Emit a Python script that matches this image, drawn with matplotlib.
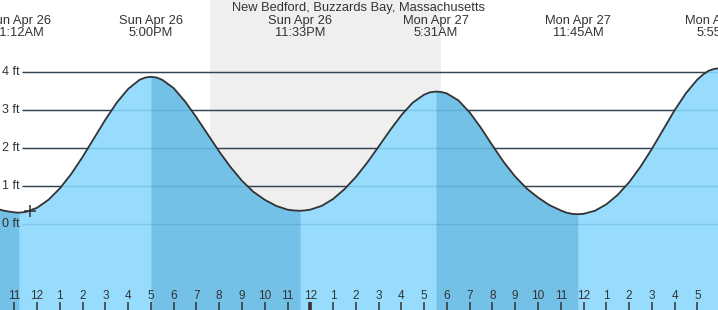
import matplotlib
matplotlib.use('Agg')
import matplotlib.pyplot as plt
import matplotlib.transforms as mtransforms
import numpy as np

plt.rcParams['font.family'] = ['Liberation Sans', 'DejaVu Sans']

# tide height (ft); time in hours counted from Sun 00:00
tide_time = [10.0, 10.25, 10.5, 10.75, 11.0, 11.2, 11.5,
             12.0, 12.5, 13.0, 13.5, 14.0, 14.5, 15.0, 15.5, 16.0, 16.5,
             16.75, 17.0, 17.25, 17.5,
             18.0, 18.5, 19.0, 19.5, 20.0, 20.5, 21.0, 21.5, 22.0, 22.5, 23.0,
             23.25, 23.55, 23.75,
             24.0, 24.5, 25.0, 25.5, 26.0, 26.5, 27.0, 27.5, 28.0, 28.5, 29.0,
             29.25, 29.517, 29.75,
             30.0, 30.5, 31.0, 31.5, 32.0, 32.5, 33.0, 33.5, 34.0, 34.5, 35.0,
             35.25, 35.5, 35.75,
             36.0, 36.5, 37.0, 37.5, 38.0, 38.5, 39.0, 39.5, 40.0, 40.5, 41.0,
             41.25, 41.5, 41.75, 41.917, 42.0]
tide_ft = [0.44, 0.40, 0.36, 0.33, 0.31, 0.30, 0.32,
           0.43, 0.64, 0.94, 1.32, 1.77, 2.26, 2.75, 3.20, 3.56, 3.80,
           3.86, 3.88, 3.86, 3.80,
           3.58, 3.23, 2.81, 2.36, 1.91, 1.50, 1.14, 0.85, 0.64, 0.48, 0.38,
           0.36, 0.35, 0.36,
           0.38, 0.48, 0.66, 0.92, 1.24, 1.62, 2.04, 2.47, 2.87, 3.20, 3.41,
           3.47, 3.49, 3.48,
           3.44, 3.26, 2.94, 2.53, 2.07, 1.63, 1.25, 0.94, 0.70, 0.50, 0.36,
           0.30, 0.27, 0.26,
           0.27, 0.35, 0.52, 0.77, 1.10, 1.51, 1.98, 2.49, 3.00, 3.45, 3.81,
           3.94, 4.04, 4.09, 4.10, 4.10]

# high / low tides
ext_time = [11.2, 17.0, 23.55, 29.517, 35.75, 41.917]
ext_labels = ['Sun Apr 26\n11:12AM', 'Sun Apr 26\n5:00PM', 'Sun Apr 26\n11:33PM',
              'Mon Apr 27\n5:31AM', 'Mon Apr 27\n11:45AM', 'Mon Apr 27\n5:55PM']

sunset = 19.6
sunrise = 29.73
now_time, now_height = 11.69, 0.34

ft_levels = [0, 1, 2, 3, 4]

t = np.array(tide_time)
h = np.array(tide_ft)

x0 = 10.372
x1 = x0 + 718 / 22.77
ybot, ytop = -86 / 38, 224.3 / 38

fig = plt.figure(figsize=(7.18, 3.10), dpi=100)
ax = fig.add_axes([0, 0, 1, 1])
ax.set_xlim(x0, x1)
ax.set_ylim(ybot, ytop)
ax.set_facecolor('#eef6fe')
ax.axis('off')

ax.axvspan(sunset, sunrise, color='#efefef', zorder=0, lw=0)

grid_start = x0 + 22 / 22.77
ax.hlines(ft_levels, grid_start, x1, color='#333333', lw=1.0, zorder=1)

light = '#97dcfd'
dark = '#73c1e6'
ax.fill_between(t, h, ybot, color=light, lw=0, zorder=2)
falling = [(t[0], ext_time[0]), (ext_time[1], ext_time[2]), (ext_time[3], ext_time[4])]
for a, b in falling:
    m = (t >= a - 1e-6) & (t <= b + 1e-6)
    ax.fill_between(t[m], h[m], ybot, color=dark, lw=0, zorder=2)

ax.hlines(ft_levels, grid_start, x1, color='#2f7fb0', lw=1.0, alpha=0.25, zorder=3)
ax.plot(t, h, color='#333333', lw=1.3, zorder=4, solid_joinstyle='round')
ax.plot([now_time], [now_height], marker='+', ms=9, mew=1.1, color='#333333', zorder=5)

trans = mtransforms.blended_transform_factory(ax.transAxes, ax.transData)
for lv in ft_levels:
    ax.text(2 / 718, lv, f'{lv} ft', transform=trans, fontsize=9, color='#333333',
            ha='left', va='center', zorder=6)

tx = mtransforms.blended_transform_factory(ax.transData, ax.transAxes)
for et, lab in zip(ext_time, ext_labels):
    ax.text(et, 0.9135, lab, transform=tx, ha='center', va='center', fontsize=9.3,
            color='#333333', linespacing=0.95)

ax.text(0.5, 0.974, 'New Bedford, Buzzards Bay, Massachusetts', transform=ax.transAxes,
        ha='center', va='center', fontsize=9.3, color='#333333')

for hr in range(11, 42):
    lab = str((hr - 1) % 12 + 1)
    ax.text(hr, 14 / 310, lab, transform=tx, ha='center', va='center', fontsize=8.5,
            color='#333333')
    lw = 2.6 if hr % 24 == 0 else 1.1
    ax.plot([hr, hr], [0, 8 / 310], transform=tx, color='#333333', lw=lw,
            solid_capstyle='butt')

fig.savefig('out.png', dpi=100)
